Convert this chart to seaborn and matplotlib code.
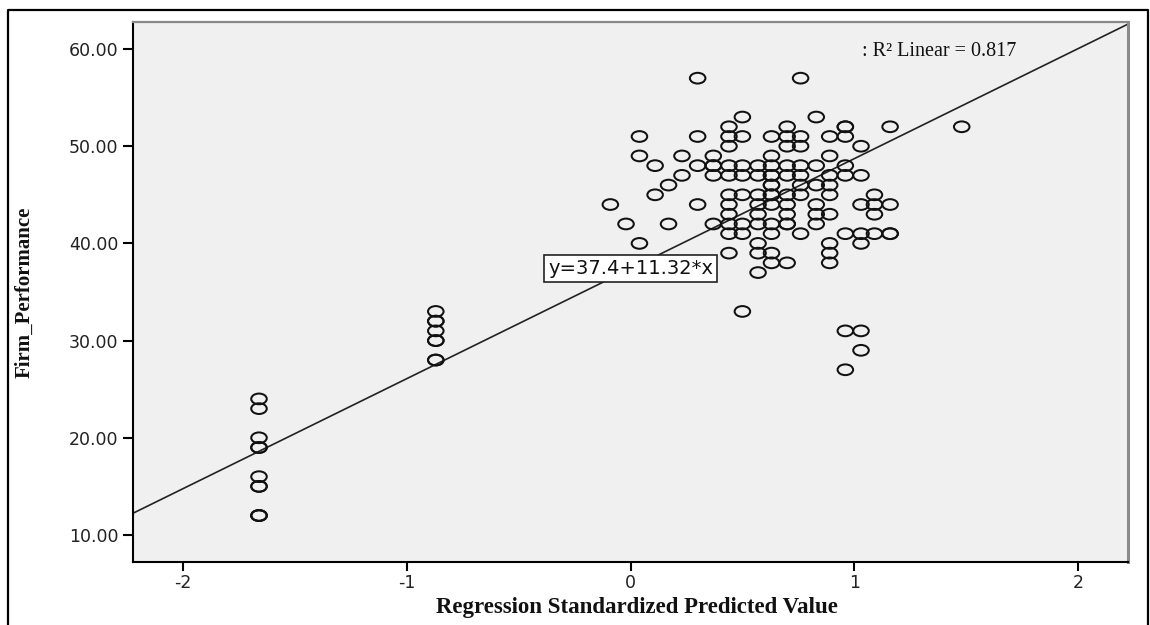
import matplotlib
matplotlib.use("Agg")
import matplotlib.pyplot as plt
import seaborn as sns
import pandas as pd
from matplotlib.path import Path
from matplotlib.transforms import Affine2D
from matplotlib.lines import Line2D

# ---- data (standardized predicted value, firm performance) ----
pred_value = [
    -1.66, -1.66, -1.66, -1.66, -1.66, -1.66, -1.66, -1.66, -1.66, -1.66, -1.66,
    -0.87, -0.87, -0.87, -0.87, -0.87, -0.87, -0.87, -0.87,
    -0.09,
    -0.02,
    0.04, 0.04, 0.04,
    0.11, 0.11,
    0.17, 0.17,
    0.23, 0.23,
    0.30, 0.30, 0.30, 0.30,
    0.37, 0.37, 0.37, 0.37, 0.37,
    0.44, 0.44, 0.44, 0.44, 0.44, 0.44, 0.44, 0.44, 0.44, 0.44, 0.44,
    0.50, 0.50, 0.50, 0.50, 0.50, 0.50, 0.50, 0.50,
    0.57, 0.57, 0.57, 0.57, 0.57, 0.57, 0.57, 0.57, 0.57,
    0.63, 0.63, 0.63, 0.63, 0.63, 0.63, 0.63, 0.63, 0.63, 0.63, 0.63, 0.63, 0.63, 0.63,
    0.70, 0.70, 0.70, 0.70, 0.70, 0.70, 0.70, 0.70, 0.70, 0.70, 0.70,
    0.76, 0.76, 0.76, 0.76, 0.76, 0.76, 0.76, 0.76,
    0.83, 0.83, 0.83, 0.83, 0.83, 0.83,
    0.89, 0.89, 0.89, 0.89, 0.89, 0.89, 0.89, 0.89, 0.89,
    0.96, 0.96, 0.96, 0.96, 0.96, 0.96, 0.96, 0.96,
    1.03, 1.03, 1.03, 1.03, 1.03, 1.03, 1.03,
    1.09, 1.09, 1.09, 1.09,
    1.16, 1.16, 1.16, 1.16,
    1.48,
]
firm_performance = [
    24, 23, 20, 19, 19, 16, 15, 15, 12, 12, 12,
    33, 32, 32, 31, 30, 30, 28, 28,
    44,
    42,
    51, 49, 40,
    48, 45,
    46, 42,
    49, 47,
    57, 51, 48, 44,
    49, 48, 48, 47, 42,
    52, 51, 50, 48, 47, 45, 44, 43, 42, 41, 39,
    53, 51, 48, 47, 45, 42, 41, 33,
    48, 47, 45, 44, 43, 42, 40, 39, 37,
    51, 49, 48, 47, 47, 46, 46, 45, 45, 44, 42, 41, 39, 38,
    52, 51, 50, 48, 47, 45, 44, 43, 42, 42, 38,
    57, 51, 50, 48, 47, 46, 45, 41,
    53, 48, 46, 44, 43, 42,
    51, 49, 47, 46, 45, 43, 40, 39, 38,
    52, 52, 51, 48, 47, 41, 31, 27,
    50, 47, 44, 41, 40, 31, 29,
    45, 44, 43, 41,
    52, 44, 41, 41,
    52,
]

fit_intercept = 37.4
fit_slope = 11.32
r_squared = 0.817

x_ticks = [-2, -1, 0, 1, 2]
y_ticks = [10, 20, 30, 40, 50, 60]

df = pd.DataFrame({"pred": pred_value, "perf": firm_performance})

W, H = 1150, 625
fig = plt.figure(figsize=(W / 100, H / 100), dpi=100)
fig.patch.set_facecolor("white")
L, R, T, B = 133, 1128, 22, 562
ax = fig.add_axes([L / W, 1 - B / H, (R - L) / W, (B - T) / H])
ax.set_facecolor("#f0f0f0")

# elliptical hollow marker (reference circles are stretched horizontally)
ellipse = Path.unit_circle().transformed(Affine2D().scale(1.45, 1.0))

sns.scatterplot(data=df, x="pred", y="perf", ax=ax, marker=ellipse, s=125,
                facecolor="none", edgecolor="#111111", linewidth=1.45,
                legend=False, zorder=3)

xlim = (-2.223, 2.223)
ax.set_xlim(*xlim)
ax.set_ylim(7.22, 62.78)

ax.plot(list(xlim), [fit_intercept + fit_slope * xlim[0], fit_intercept + fit_slope * xlim[1]],
        color="#222222", lw=1.2, zorder=2)

ax.text(0.0, fit_intercept, f"y={fit_intercept}+{fit_slope}*x", ha="center", va="center",
        fontsize=14, family="DejaVu Sans", color="#111111", zorder=6,
        bbox=dict(boxstyle="square,pad=0.22", fc="white", ec="#222222", lw=1.2))

ax.text(1.38, 59.7, f": R\u00b2 Linear = {r_squared}", ha="center", va="center",
        fontsize=14.5, family="Liberation Serif", color="#111111", zorder=6)

ax.set_xticks(x_ticks)
ax.set_xticklabels([str(v) for v in x_ticks])
ax.set_yticks(y_ticks)
ax.set_yticklabels([f"{v:.2f}" for v in y_ticks])
ax.tick_params(axis="y", length=7.2, width=1.5, pad=3.5, labelsize=12.5,
               labelcolor="#222222", color="black", direction="out")
ax.tick_params(axis="x", length=6.5, width=1.5, pad=2.5, labelsize=12.5,
               labelcolor="#222222", color="black", direction="out")
for lab in ax.get_xticklabels() + ax.get_yticklabels():
    lab.set_family("DejaVu Sans")

for side in ("left", "bottom"):
    ax.spines[side].set_color("black")
    ax.spines[side].set_linewidth(1.5)
ax.spines["top"].set_color("#8a8a8a")
ax.spines["top"].set_linewidth(1.6)
ax.spines["right"].set_color("#8a8a8a")
ax.spines["right"].set_linewidth(2.2)

ax.set_xlabel("Regression Standardized Predicted Value", fontsize=16.5,
              family="Liberation Serif", fontweight="bold", color="#111111")
ax.xaxis.label.set_va("top")
ax.xaxis.set_label_coords((636.5 - L) / (R - L), (B - 597) / (B - T))

ax.set_ylabel("Firm_Performance", fontsize=15, family="Liberation Serif",
              fontweight="bold", color="#111111")
ax.yaxis.label.set_va("center")
ax.yaxis.set_label_coords((25 - L) / (R - L), 0.5)

# outer frame of the chart image
fx = [7.5 / W, 7.5 / W, 1147.5 / W, 1147.5 / W]
fy = [0, 1 - 10 / H, 1 - 10 / H, 0]
fig.add_artist(Line2D(fx, fy, transform=fig.transFigure, color="black", lw=1.6))

fig.savefig("out.png", dpi=100, facecolor="white")
